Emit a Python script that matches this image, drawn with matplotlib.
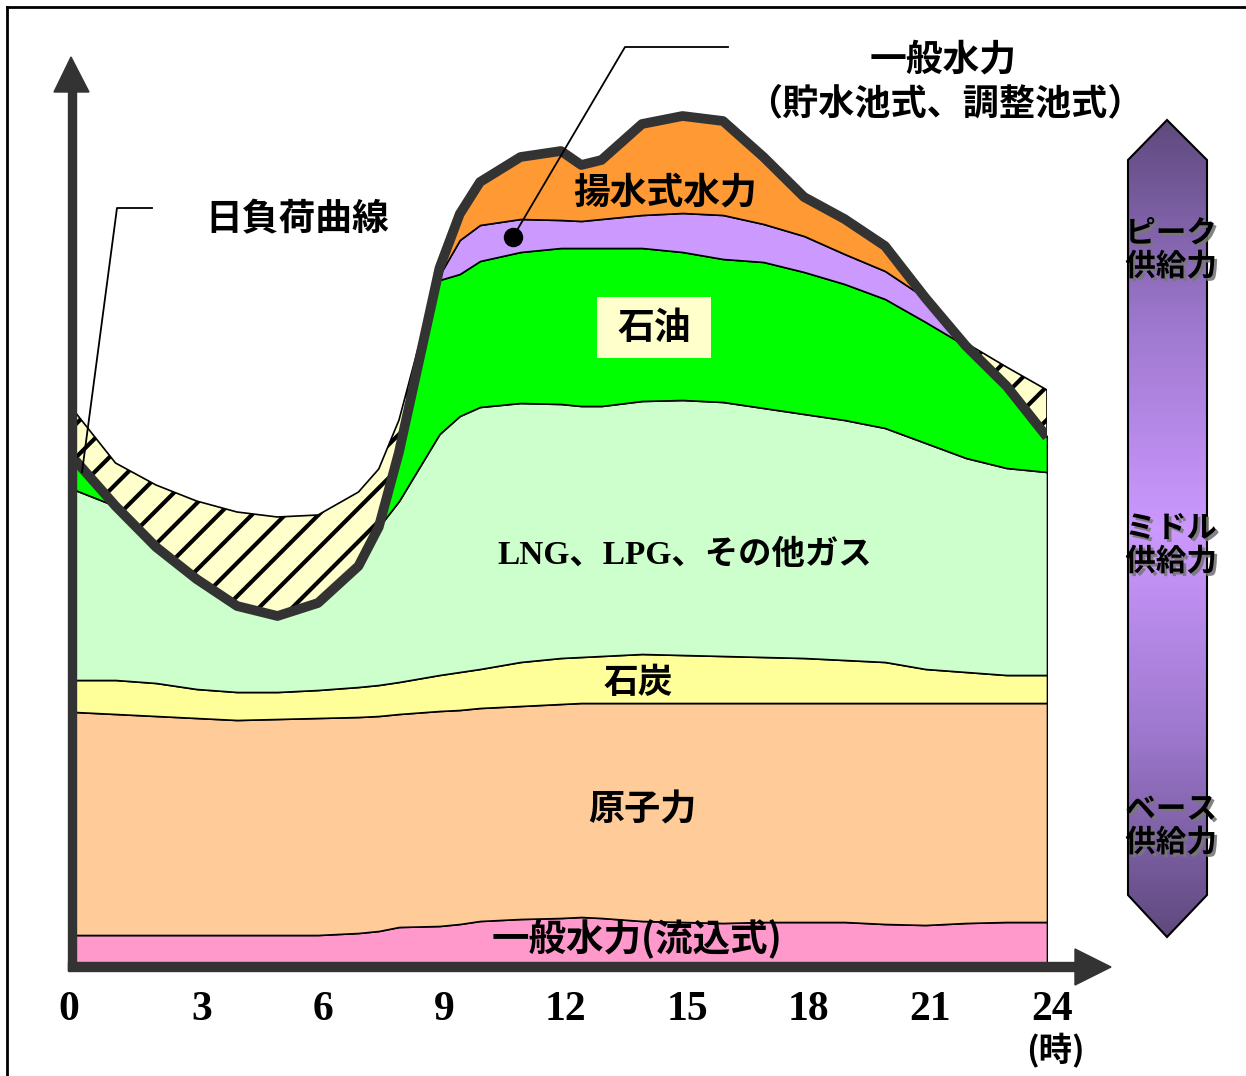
import numpy as np
import matplotlib
matplotlib.use("Agg")
import matplotlib.pyplot as plt
from matplotlib.patches import Polygon, Rectangle
from matplotlib.colors import LinearSegmentedColormap
import matplotlib.patheffects as pe

# 時刻（時）
hours = [0, 1, 2, 3, 4, 5, 6, 7, 7.5, 8, 9, 9.5, 10, 11, 12, 12.5, 13,
         14, 15, 16, 17, 18, 19, 20, 21, 22, 23, 24]

# 各電源の積み上げ上端（相対値、最大需要 ≒ 85）
run_of_river_top = [3.0, 3.0, 3.0, 3.0, 3.0, 3.0, 3.0, 3.2, 3.4, 3.8, 3.9, 4.1, 4.4, 4.6,
                    4.7, 4.8, 4.7, 4.4, 4.3, 4.2, 4.3, 4.3, 4.3, 4.1, 4.0, 4.2, 4.3, 4.3]
nuclear_top = [25.3, 25.1, 24.9, 24.7, 24.5, 24.6, 24.7, 24.8, 24.9, 25.1, 25.4, 25.5, 25.7, 25.9,
               26.1, 26.2, 26.2, 26.2, 26.2, 26.2, 26.2, 26.2, 26.2, 26.2, 26.2, 26.2, 26.2, 26.2]
coal_top = [28.5, 28.5, 28.2, 27.6, 27.3, 27.3, 27.5, 27.8, 28.0, 28.3, 29.0, 29.3, 29.6, 30.3,
            30.7, 30.8, 30.9, 31.1, 31.0, 30.9, 30.8, 30.7, 30.5, 30.3, 29.6, 29.3, 29.0, 29.0]
gas_top = [47.5, 45.9, 41.8, 38.6, 35.9, 34.9, 36.2, 39.9, 43.8, 46.4, 53.1, 54.9, 55.8, 56.2,
           56.1, 55.9, 55.9, 56.4, 56.5, 56.3, 55.7, 55.1, 54.5, 53.7, 52.2, 50.7, 49.7, 49.3]
oil_top = [50.0, 45.9, 41.8, 38.6, 35.9, 34.9, 36.2, 39.9, 43.8, 51.3, 68.5, 69.1, 70.4, 71.3,
           71.7, 71.7, 71.7, 71.7, 71.3, 70.6, 70.3, 69.3, 68.1, 66.6, 64.3, 61.9, 57.9, 52.8]
reservoir_top = [50.0, 45.9, 41.8, 38.6, 35.9, 34.9, 36.2, 39.9, 43.8, 51.3, 69.0, 72.5, 74.0, 74.6,
                 74.5, 74.4, 74.6, 75.0, 75.2, 75.0, 74.1, 72.9, 71.1, 69.4, 66.7, 61.9, 57.9, 52.8]
pumped_top = [50.0, 45.9, 41.8, 38.6, 35.9, 34.9, 36.2, 39.9, 43.8, 51.3, 69.7, 75.1, 78.3, 80.8,
              81.4, 80.0, 80.5, 84.1, 84.9, 84.4, 80.8, 76.8, 74.6, 71.9, 66.7, 61.9, 57.9, 52.8]

# 日負荷曲線と供給力上端（揚水動力分）
demand = [50.5, 45.9, 41.8, 38.6, 35.9, 34.9, 36.2, 39.9, 43.8, 51.3, 69.7, 75.1, 78.3, 80.8,
          81.4, 80.0, 80.5, 84.1, 84.9, 84.4, 80.8, 76.8, 74.6, 71.9, 66.7, 61.9, 57.9, 52.8]
supply_top = [55.3, 50.2, 48.0, 46.4, 45.3, 44.8, 45.0, 47.3, 49.6, 54.5, 69.7, 75.1, 78.3, 80.8,
              81.4, 80.0, 80.5, 84.1, 84.9, 84.4, 80.8, 76.8, 74.6, 71.9, 66.7, 62.2, 59.8, 57.5]

tick_hours = [0, 3, 6, 9, 12, 15, 18, 21, 24]

plt.rcParams["hatch.linewidth"] = 3.0
CJK = ["Noto Sans CJK JP", "DejaVu Sans"]
DARK = "#333333"

W, H = 1246, 1076
fig = plt.figure(figsize=(W / 100, H / 100), dpi=100)
fig.patch.set_facecolor("white")

# データ領域
ax = fig.add_axes([75 / W, 111 / H, 972 / W, 900 / H])
ax.set_xlim(0, 24)
ax.set_ylim(0, 90)
ax.axis("off")

zeros = np.zeros(len(hours))
layers = [
    (zeros, run_of_river_top, "#FF99CC"),
    (run_of_river_top, nuclear_top, "#FFCC99"),
    (nuclear_top, coal_top, "#FFFF99"),
    (coal_top, gas_top, "#CCFFCC"),
    (gas_top, oil_top, "#00FF00"),
    (oil_top, reservoir_top, "#CC99FF"),
    (reservoir_top, pumped_top, "#FF9933"),
]
for lo, hi, col in layers:
    ax.fill_between(hours, lo, hi, facecolor=col, edgecolor="black", linewidth=1.2)

ax.fill_between(hours, demand, supply_top, facecolor="#FFFFCC", edgecolor="black",
                hatch="/", linewidth=1.2)
ax.plot(hours, demand, color=DARK, lw=7, solid_joinstyle="round", solid_capstyle="butt")

for h in tick_hours:
    shift = -0.15 if h == 0 else 0.12
    ax.text(h + shift, -4.5, str(h), ha="center", va="center", fontsize=30,
            family="Liberation Serif", weight="bold", clip_on=False)
ax.text(24.2, -8.6, "(時)", ha="center", va="center", fontsize=24, family=CJK,
        weight="bold", clip_on=False)

# 装飾（ピクセル座標）
ov = fig.add_axes([0, 0, 1, 1])
ov.set_zorder(3)

# 枠線
ov.plot([7, 7], [7, H], color="black", lw=2)
ov.plot([7, W], [7, 7], color="black", lw=2)

# 軸矢印
ov.add_patch(Rectangle((68, 88), 8, 882, color=DARK))
ov.add_patch(Polygon([(71, 57), (54, 92), (89, 92)], closed=True, color=DARK))
ov.add_patch(Rectangle((68, 962), 1010, 9, color=DARK))
ov.add_patch(Polygon([(1111, 967), (1075, 949), (1075, 985)], closed=True, color=DARK))

# 引き出し線
ov.plot([152, 117, 82], [208, 208, 472], color="black", lw=1.3)
ov.plot([728, 625, 513], [47, 47, 237], color="black", lw=1.3)
ov.plot([513], [237], "o", color="black", markersize=13)

# 石油ラベル背景
ov.add_patch(Rectangle((597, 297), 114, 61, facecolor="#FFFFCC", edgecolor="none"))

labels = [
    ("日負荷曲線", 297, 220, 26.5),
    ("一般水力", 943, 60, 26.5),
    ("（貯水池式、調整池式）", 945, 104, 26),
    ("揚水式水力", 665, 193, 26.5),
    ("石油", 654, 329, 26.5),
    ("石炭", 638, 683, 25),
    ("原子力", 642, 810, 26),
    ("一般水力(流込式)", 637, 939, 27),
]
for txt, x, y, fs in labels:
    ov.text(x, y, txt, ha="center", va="center", fontsize=fs, family=CJK, weight="bold")

ov.text(685, 555, "LNG、LPG、その他ガス", ha="center", va="center", fontsize=24,
        family=["Liberation Serif", "Noto Sans CJK JP"], weight="bold")

# 右側の供給力区分バー
bar = Polygon([(1167, 120), (1207, 160), (1207, 895), (1167, 937), (1128, 895), (1128, 160)],
              closed=True, facecolor="none", edgecolor="black", lw=1.5, zorder=3)
ov.add_patch(bar)
cmap = LinearSegmentedColormap.from_list(
    "bar", ["#5E4A7E", "#9E78CF", "#CC99FF", "#9E78CF", "#5E4A7E"])
grad = np.linspace(0, 1, 256).reshape(-1, 1)
im = ov.imshow(grad, cmap=cmap, extent=(1128, 1207, 937, 120), aspect="auto", zorder=2)
im.set_clip_path(bar)

shadow = [pe.withSimplePatchShadow(offset=(2, -2), shadow_rgbFace="#777777", alpha=0.9)]
for txt, y in [("ピーク\n供給力", 250), ("ミドル\n供給力", 545), ("ベース\n供給力", 826)]:
    ov.text(1171, y, txt, ha="center", va="center", fontsize=22, family=CJK, weight="bold",
            linespacing=1.05, path_effects=shadow, zorder=4)

ov.set_xlim(0, W)
ov.set_ylim(H, 0)
ov.axis("off")

fig.savefig("out.png", dpi=100)
